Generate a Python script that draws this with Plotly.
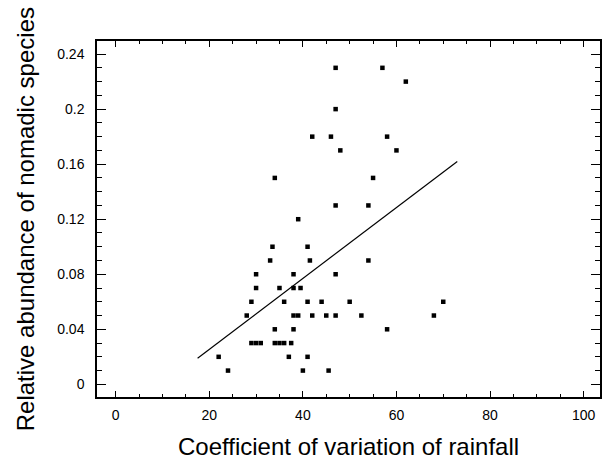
import plotly.graph_objects as go

# Data
cv_rainfall = [47, 57, 62, 47, 42, 46, 58, 48, 60, 34, 55, 47, 54, 39, 33.5, 41, 33, 41.5, 54,
               30, 38, 47, 30, 35, 38, 39.5, 29, 36, 41, 44, 50, 70, 28, 38, 39, 42, 45, 47,
               52.5, 68, 34, 38, 58, 29, 30, 31, 34, 35, 36, 37.5, 22, 37, 41, 24, 40, 45.5]
nomadic_abundance = [0.23, 0.23, 0.22, 0.20, 0.18, 0.18, 0.18, 0.17, 0.17, 0.15, 0.15, 0.13, 0.13,
                     0.12, 0.10, 0.10, 0.09, 0.09, 0.09, 0.08, 0.08, 0.08, 0.07, 0.07, 0.07, 0.07,
                     0.06, 0.06, 0.06, 0.06, 0.06, 0.06, 0.05, 0.05, 0.05, 0.05, 0.05, 0.05, 0.05,
                     0.05, 0.04, 0.04, 0.04, 0.03, 0.03, 0.03, 0.03, 0.03, 0.03, 0.03, 0.02, 0.02,
                     0.02, 0.01, 0.01, 0.01]
fit_x = [17.5, 73]
fit_y = [0.019, 0.162]

x_ticks = [0, 20, 40, 60, 80, 100]
y_ticks = [0, 0.04, 0.08, 0.12, 0.16, 0.2, 0.24]
y_tick_labels = ["0", "0.04", "0.08", "0.12", "0.16", "0.2", "0.24"]

FONT = "Liberation Sans, Arial, Helvetica, sans-serif"

fig = go.Figure()
fig.add_trace(go.Scatter(x=cv_rainfall, y=nomadic_abundance, mode="markers",
                         marker=dict(symbol="square", size=4.5, color="black", line=dict(width=0)),
                         showlegend=False))
fig.add_trace(go.Scatter(x=fit_x, y=fit_y, mode="lines",
                         line=dict(color="black", width=1.2), showlegend=False))

W, H = 605, 459
L, R, T, B = 97, 3, 41, 62
pw, ph = W - L - R, H - T - B

fig.update_layout(
    width=W, height=H,
    margin=dict(l=L, r=R, t=T, b=B, pad=0),
    paper_bgcolor="white", plot_bgcolor="white",
    font=dict(family=FONT, color="black"),
    xaxis=dict(range=[-4, 103.5], tickvals=x_ticks, ticks="inside", ticklen=6, tickwidth=1.2,
               tickcolor="black", showline=True, linecolor="black", linewidth=1.5, mirror="ticks",
               showgrid=False, zeroline=False, tickfont=dict(size=14, family=FONT),
               ticklabelstandoff=4,
               minor=dict(dtick=5, tick0=0, ticks="inside", ticklen=3, tickwidth=1,
                          tickcolor="black", showgrid=False)),
    yaxis=dict(range=[-0.0092, 0.2495], tickvals=y_ticks, ticktext=y_tick_labels,
               ticks="inside", ticklen=9, tickwidth=1.2, tickcolor="black",
               showline=True, linecolor="black", linewidth=1.5, mirror="ticks",
               showgrid=False, zeroline=False, tickfont=dict(size=14, family=FONT),
               ticklabelstandoff=8,
               minor=dict(dtick=0.01, tick0=0, ticks="inside", ticklen=5, tickwidth=1,
                          tickcolor="black", showgrid=False)),
    annotations=[
        dict(text="Coefficient of variation of rainfall", xref="paper", yref="paper",
             x=(350 - L) / pw, y=(397 - 446) / ph, xanchor="center", yanchor="middle",
             showarrow=False, font=dict(size=24, family=FONT, color="black")),
        dict(text="Relative abundance of nomadic species", xref="paper", yref="paper",
             x=(25 - L) / pw, y=(397 - 219) / ph, xanchor="center", yanchor="middle",
             textangle=-90, showarrow=False, font=dict(size=24, family=FONT, color="black")),
    ],
)

fig.write_html("out.html")
